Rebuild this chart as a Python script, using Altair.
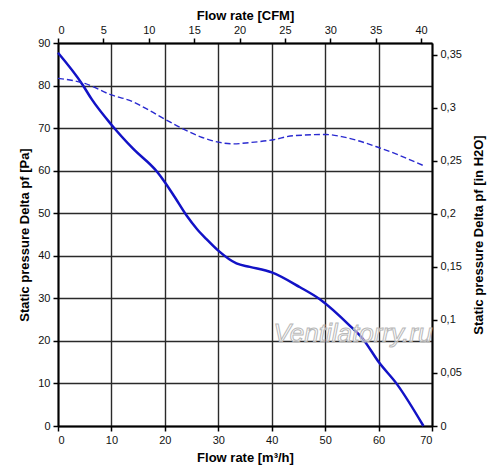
import altair as alt
import pandas as pd

# Main curve: static pressure [Pa] vs flow rate [m3/h]
solid_x = [0, 4.6, 6.3, 10.0, 14.1, 18.5, 20.0, 21.9, 24.1, 26.0, 27.8, 30.0, 33.4, 35.9,
           40.0, 45.3, 49.0, 54.6, 57.1, 60.1, 63.4, 68.4]
solid_y = [87.7, 80.2, 76.8, 70.8, 65.1, 59.8, 57.3, 53.7, 49.4, 46.3, 43.9, 41.2, 38.2, 37.4,
           36.1, 32.6, 29.8, 23.6, 20.4, 14.9, 9.9, 0.0]

# Dashed curve
dash_x = [0, 5.0, 10.0, 13.4, 16.9, 20.0, 23.4, 27.0, 30.0, 32.8, 35.9, 40.0, 44.0, 50.2,
          53.1, 59.9, 68.4]
dash_y = [81.7, 80.5, 77.8, 76.5, 74.3, 72.1, 69.8, 67.8, 66.7, 66.3, 66.6, 67.2, 68.2, 68.5,
          68.0, 65.5, 61.2]

m3h_ticks = [0, 10, 20, 30, 40, 50, 60, 70]
pa_ticks = [0, 10, 20, 30, 40, 50, 60, 70, 80, 90]
cfm_ticks = [0, 5, 10, 15, 20, 25, 30, 35, 40]
inh2o_ticks = [0, 0.05, 0.1, 0.15, 0.2, 0.25, 0.3, 0.35]

X_MAX = 70
Y_MAX = 90
CFM_MAX = X_MAX / 1.699
INH2O_MAX = Y_MAX / 249.09

solid = pd.DataFrame({"flow": solid_x, "pa": solid_y})
dashed = pd.DataFrame({"flow": dash_x, "pa": dash_y})
sec = pd.DataFrame({"cfm": [0, CFM_MAX], "inh2o": [0, INH2O_MAX]})
wm = pd.DataFrame({"flow": [55.2], "pa": [21.7], "t": ["Ventilatorry.ru"]})

FONT = "Liberation Sans"
common = dict(labelFont=FONT, labelFontSize=11, labelColor="#111",
              titleFont=FONT, titleFontSize=13, titleFontWeight="bold", titleColor="#000",
              domainColor="#000", domainWidth=2, tickColor="#000", tickWidth=1.5,
              tickSize=5, labelPadding=3)

xs = alt.Scale(domain=[0, X_MAX], nice=False, zero=False)
ys = alt.Scale(domain=[0, Y_MAX], nice=False, zero=False)

main = alt.Chart(solid).mark_line(color="#1212c6", strokeWidth=2.5, interpolate="monotone").encode(
    x=alt.X("flow:Q", scale=xs,
            axis=alt.Axis(orient="bottom", values=m3h_ticks, title="Flow rate [m³/h]",
                          grid=True, gridColor="#2a2a2a", gridWidth=1.4, titlePadding=6, **common)),
    y=alt.Y("pa:Q", scale=ys,
            axis=alt.Axis(orient="left", values=pa_ticks, title="Static pressure Delta pf [Pa]",
                          grid=True, gridColor="#2a2a2a", gridWidth=1.4, titlePadding=6, **common)),
)

dash = alt.Chart(dashed).mark_line(color="#2a2ad0", strokeWidth=1.4, strokeDash=[6, 3],
                                    interpolate="monotone").encode(
    x=alt.X("flow:Q", scale=xs, axis=None),
    y=alt.Y("pa:Q", scale=ys, axis=None),
)

secondary = alt.Chart(sec).mark_point(opacity=0).encode(
    x=alt.X("cfm:Q", scale=alt.Scale(domain=[0, CFM_MAX], nice=False, zero=False),
            axis=alt.Axis(orient="top", values=cfm_ticks, title="Flow rate [CFM]",
                          grid=False, titlePadding=2, **common)),
    y=alt.Y("inh2o:Q", scale=alt.Scale(domain=[0, INH2O_MAX], nice=False, zero=False),
            axis=alt.Axis(orient="right", values=inh2o_ticks, title="Static pressure Delta pf [in H2O]",
                          grid=False, titleAngle=270, titleX=46, titleY=191.5,
                          titleAlign="center", titleBaseline="middle",
                          labelExpr="replace(format(datum.value, '.2~f'), '.', ',')", **common)),
)

watermark = alt.Chart(wm).mark_text(font=FONT, fontSize=26, fontStyle="italic", fill="#ffffff",
                                     fillOpacity=0.5, stroke="#b8b8b8", strokeWidth=1,
                                     align="center", baseline="middle").encode(
    x=alt.X("flow:Q", scale=xs, axis=None),
    y=alt.Y("pa:Q", scale=ys, axis=None),
    text="t:N",
)

chart = alt.layer(main, dash, watermark, secondary).resolve_scale(
    x="independent", y="independent"
).properties(
    width=374, height=383,
    autosize=alt.AutoSizeParams(type="none"),
    padding={"left": 50, "top": 35, "right": 60, "bottom": 42},
).configure_view(stroke="#000", strokeWidth=2).configure(background="#ffffff")

chart.save("out.html", embed_options={"renderer": "svg", "actions": False})
